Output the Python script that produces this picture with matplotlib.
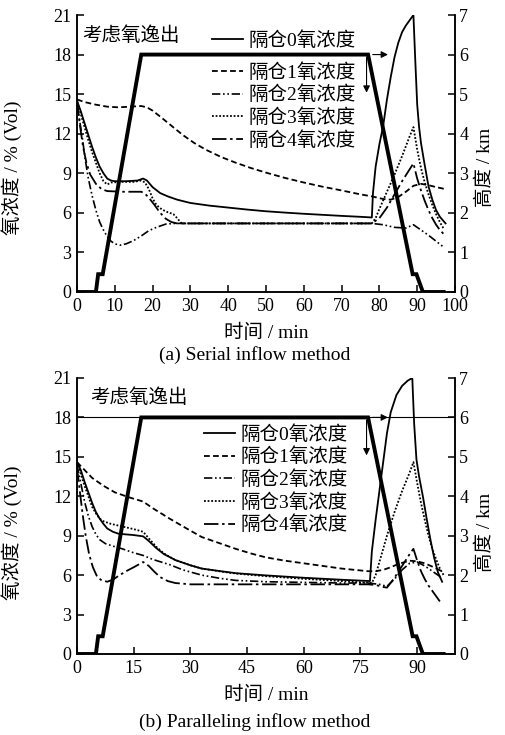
import matplotlib
matplotlib.use('Agg')
import matplotlib.pyplot as plt

plt.rcParams['font.family'] = ['Liberation Serif', 'Noto Sans CJK SC']
plt.rcParams['axes.linewidth'] = 1.1

# flight altitude profile (km), same for both cases
alt_t = [0, 5.0, 5.6, 6.8, 17.0, 77.0, 88.8, 89.8, 91.5, 97.0]
alt_km = [0, 0, 0.45, 0.45, 6.0, 6.0, 0.45, 0.45, 0, 0]

labels = ['隔仓0氧浓度', '隔仓1氧浓度', '隔仓2氧浓度', '隔仓3氧浓度', '隔仓4氧浓度']

# (a) serial inflow, O2 concentration (%Vol) per compartment
a0_t = [0, 1, 2, 3, 4, 5, 6, 7, 8, 9, 10, 13, 16, 17.5, 18.5, 20, 22, 24, 26.5, 30, 35, 40, 45, 50, 55, 60, 65, 70, 75,
        78, 78.3, 79, 80, 81, 82, 83, 84, 85, 86, 87, 88, 89, 89.5, 90, 90.5, 91, 92, 93, 94, 95, 96, 97.5]
a0_v = [14.5, 13.7, 12.8, 11.9, 11.0, 10.2, 9.5, 9.0, 8.6, 8.45, 8.4, 8.4, 8.45, 8.6, 8.45, 7.95, 7.5, 7.25, 7.0, 6.75,
        6.55, 6.4, 6.25, 6.12, 6.02, 5.93, 5.85, 5.77, 5.7, 5.65, 7.5, 9.5, 11.2, 12.6, 14.6, 16.3, 17.8, 18.9, 19.7,
        20.2, 20.6, 21.0, 17.5, 14.2, 12.5, 11.3, 9.6, 8.0, 7.0, 6.2, 5.7, 5.2]
a1_t = [0, 2, 5, 8, 11, 14, 17, 18.5, 20, 22, 25, 28, 31, 34, 38, 42, 46, 50, 55, 60, 65, 70, 75, 78, 81, 83, 85, 87,
        89, 91, 93, 95, 97.5]
a1_v = [14.6, 14.4, 14.2, 14.05, 14.0, 14.05, 14.1, 14.0, 13.75, 13.3, 12.6, 11.9, 11.3, 10.8, 10.25, 9.8, 9.4, 9.05,
        8.65, 8.3, 7.98, 7.7, 7.4, 7.25, 7.05, 7.0, 7.2, 7.6, 8.05, 8.2, 8.1, 7.95, 7.8]
a2_t = [0, 0.7, 1.5, 2.2, 3, 4, 5, 6, 7, 8, 9, 10, 11.4, 13, 15, 17, 19, 21, 23.5, 26, 78, 81, 84, 87, 89, 91, 93, 95, 97]
a2_v = [14.3, 13.0, 11.5, 10.0, 8.6, 7.3, 6.2, 5.3, 4.7, 4.2, 3.85, 3.65, 3.55, 3.65, 3.9, 4.25, 4.65, 4.9, 5.15, 5.2,
        5.2, 5.1, 4.9, 4.85, 5.1, 4.7, 4.3, 3.85, 3.4]
a3_t = [0, 1, 2, 3, 4, 5, 6, 7, 8, 9, 12, 15, 17, 18, 19, 20, 21, 22.5, 24, 25.5, 26.5, 27.5, 28.5, 78, 79, 80, 82, 84,
        86, 88, 89, 90, 91, 92, 93, 94, 95, 96, 97]
a3_v = [14.5, 13.5, 12.5, 11.5, 10.6, 9.8, 9.0, 8.4, 8.15, 8.3, 8.35, 8.35, 8.45, 8.3, 7.8, 7.1, 6.6, 6.25, 6.05, 5.9,
        5.6, 5.25, 5.2, 5.2, 5.6, 6.3, 7.6, 8.9, 10.3, 11.8, 12.5, 10.8, 9.4, 8.3, 7.4, 6.6, 5.9, 5.3, 4.8]
a4_t = [0, 0.8, 1.6, 2.5, 3.5, 5, 6.5, 8, 12, 17, 18, 19, 20.5, 22, 23.5, 25, 26.5, 78, 80, 82, 84, 86, 88, 89, 90, 91,
        92, 93, 94, 95, 96, 97]
a4_v = [14.5, 12.6, 11.0, 9.8, 8.9, 8.2, 7.8, 7.65, 7.6, 7.6, 7.45, 7.15, 6.6, 6.0, 5.55, 5.3, 5.2, 5.2, 5.6, 6.4, 7.4,
        8.4, 9.3, 9.75, 8.6, 7.7, 6.9, 6.2, 5.6, 5.1, 4.7, 4.4]

# (b) paralleling inflow
b0_t = [0, 1, 2, 3, 4, 5, 6, 7, 8, 9.5, 11, 13, 15, 17.5, 19, 21, 23, 26, 30, 33, 38, 42, 50, 60, 70, 77.5, 78, 79,
        80, 81, 82, 83, 84.5, 86, 87.5, 88.7, 89.2, 89.8, 90.5, 91.5, 92.5, 93.5, 94.5, 95.5, 96.6]
b0_v = [14.6, 14.0, 13.1, 12.3, 11.5, 10.8, 10.3, 9.9, 9.55, 9.3, 9.15, 9.1, 9.05, 8.95, 8.6, 8.05, 7.6, 7.15, 6.75,
        6.5, 6.3, 6.15, 5.98, 5.8, 5.65, 5.55, 7.8, 10.2, 12.4, 14.6, 16.8, 18.4, 19.7, 20.4, 20.8, 21.0, 17.5, 14.8,
        13.5, 12.0, 10.3, 8.7, 7.3, 6.2, 5.5]
b1_t = [0, 2, 4, 7, 10, 14, 17.5, 20, 24.5, 29, 33, 38, 42, 46, 50, 55, 60, 65, 70, 77, 79, 81, 83, 85, 88, 90, 92, 94,
        96.5]
b1_v = [14.6, 14.0, 13.4, 12.8, 12.3, 11.9, 11.6, 11.1, 10.3, 9.55, 8.9, 8.4, 8.0, 7.65, 7.35, 7.1, 6.9, 6.7, 6.5, 6.3,
        6.3, 6.4, 6.6, 6.85, 7.1, 7.05, 6.9, 6.65, 6.3]
b2_t = [0, 1, 2, 3, 4, 5, 6, 7.5, 9.6, 12, 15, 17.5, 20, 24.5, 28, 33, 38, 42, 50, 60, 70, 77, 80, 82, 84, 86, 88, 90,
        92, 94, 96.5]
b2_v = [14.4, 13.0, 11.6, 10.5, 9.7, 9.1, 8.7, 8.4, 8.2, 8.0, 7.7, 7.5, 7.2, 6.8, 6.4, 6.0, 5.75, 5.6, 5.5, 5.45, 5.4,
        5.4, 5.3, 5.15, 5.7, 6.4, 6.9, 7.0, 6.7, 6.3, 5.8]
b3_t = [0, 1, 2, 3, 4, 5, 6, 7, 9, 12, 15, 17.5, 19, 21, 23, 26, 30, 33, 38, 42, 50, 60, 70, 78, 79, 80, 82, 84, 86, 88,
        89, 90, 91, 92, 93, 94, 95, 96, 97]
b3_v = [14.6, 13.7, 12.8, 12.0, 11.2, 10.7, 10.3, 10.1, 9.9, 9.7, 9.5, 9.3, 8.8, 8.15, 7.65, 7.15, 6.75, 6.5, 6.28,
        6.12, 5.92, 5.72, 5.55, 5.4, 6.0, 7.0, 9.0, 10.8, 12.4, 13.8, 14.6, 13.0, 11.5, 10.2, 9.0, 8.0, 7.2, 6.5, 6.0]
b4_t = [0, 0.7, 1.5, 2.3, 3.2, 4.2, 5.3, 6.5, 8, 9.5, 11, 13, 15, 17.5, 19, 20.5, 22, 24, 26, 30, 77, 79, 81, 82, 84,
        86, 88, 89, 90, 91, 92, 93, 94, 95, 96]
b4_v = [14.2, 12.5, 10.6, 9.0, 7.6, 6.6, 5.9, 5.6, 5.5, 5.65, 5.95, 6.3, 6.6, 7.0, 6.7, 6.25, 5.85, 5.55, 5.4, 5.3,
        5.3, 5.25, 5.1, 5.05, 5.8, 6.7, 7.6, 8.0, 7.1, 6.3, 5.7, 5.2, 4.8, 4.4, 4.0]

styles = [
    dict(ls='-', lw=1.3),
    dict(ls=(0, (3.2, 1.8)), lw=1.3),
    dict(ls=(0, (5, 1.6, 1, 1.6, 1, 1.6)), lw=1.2),
    dict(ls=(0, (1, 1)), lw=1.3),
    dict(ls=(0, (8, 2, 1.4, 2)), lw=1.3),
]

W, H = 506, 735
fig = plt.figure(figsize=(W / 100, H / 100), dpi=100)


def px_axes(left, top, right, bottom):
    return fig.add_axes([left / W, 1 - bottom / H, (right - left) / W, (bottom - top) / H])


def draw_panel(ax, series, xticks, ylab_y, caption, caption_y, full_line, note_xy, legend_tops, legend_x):
    handles = []
    for (t, v), lab, st in zip(series, labels, styles):
        h, = ax.plot(t, v, color='black', label=lab, **st)
        handles.append(h)
    ax.set_xlim(0, 100)
    ax.set_ylim(0, 21)
    ax.set_xticks(xticks)
    ax.set_yticks(range(0, 22, 3))
    ax.spines['top'].set_visible(False)
    ax.tick_params(direction='in', length=5, width=1.1, labelsize=13, pad=4)

    ax2 = ax.twinx()
    ax2.plot(alt_t, alt_km, color='black', lw=2.8, solid_joinstyle='miter')
    ax2.set_ylim(0, 7)
    ax2.set_yticks(range(0, 8))
    ax2.spines['top'].set_visible(False)
    ax2.tick_params(direction='in', length=5, width=1.1, labelsize=13, pad=3)

    # cruise level reference and arrows
    if full_line:
        ax.axhline(18, color='black', lw=0.8)
    ax.annotate('', xy=(83, 18), xytext=(77.5, 18),
                arrowprops=dict(arrowstyle='-|>', color='black', lw=0.8, mutation_scale=10))
    ax.annotate('', xy=(76.6, 14.9), xytext=(76.6, 18),
                arrowprops=dict(arrowstyle='-|>', color='black', lw=0.8, mutation_scale=10))

    ax.text(note_xy[0], note_xy[1], '考虑氧逸出', fontsize=14, ha='left', va='center')

    ax.set_xlabel('时间 / min', fontsize=14)
    ax.xaxis.set_label_coords(0.5, -0.115)
    ax.set_ylabel('氧浓度 / % (Vol)', fontsize=14)
    ax.yaxis.set_label_coords(-0.145, ylab_y)
    ax2.set_ylabel('高度 / km', fontsize=14)
    ax2.yaxis.set_label_coords(1.055, ylab_y)

    fig.text(255 / W, 1 - caption_y / H, caption, fontsize=14, ha='center', va='center')

    leg_kw = dict(frameon=False, fontsize=14, handlelength=1.6, handletextpad=0.3,
                  labelspacing=0.2, borderpad=0, borderaxespad=0, loc='upper left',
                  bbox_transform=fig.transFigure)
    if legend_tops[1] is None:
        ax.legend(handles=handles, bbox_to_anchor=(legend_x / W, 1 - legend_tops[0] / H), **leg_kw)
    else:
        l1 = ax.legend(handles=handles[:1], bbox_to_anchor=(legend_x / W, 1 - legend_tops[0] / H), **leg_kw)
        ax.add_artist(l1)
        ax.legend(handles=handles[1:], bbox_to_anchor=(legend_x / W, 1 - legend_tops[1] / H), **leg_kw)
    return ax2


ax_a = px_axes(77, 15, 455, 292)
draw_panel(ax_a,
           [(a0_t, a0_v), (a1_t, a1_v), (a2_t, a2_v), (a3_t, a3_v), (a4_t, a4_v)],
           range(0, 101, 10), 0.45, '(a) Serial inflow method', 355,
           False, (1.3, 19.4), (31, 63), 212)

ax_b = px_axes(77, 378, 455, 654)
draw_panel(ax_b,
           [(b0_t, b0_v), (b1_t, b1_v), (b2_t, b2_v), (b3_t, b3_v), (b4_t, b4_v)],
           range(0, 91, 15), 0.44, '(b) Paralleling inflow method', 722,
           True, (3.4, 19.5), (425, None), 204)

fig.savefig('out.png', dpi=100)
